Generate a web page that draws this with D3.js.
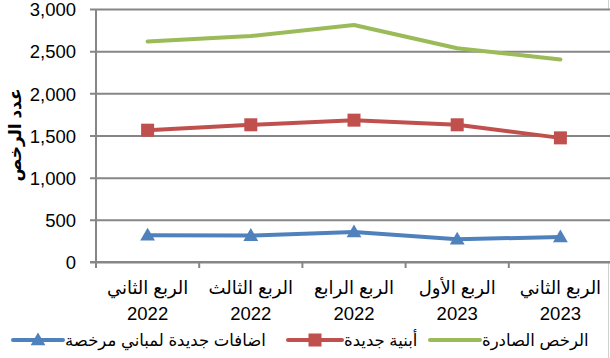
<!DOCTYPE html>
<html><head><meta charset="utf-8">
<script src="https://cdn.jsdelivr.net/npm/d3@7"></script>
<style>
html,body{margin:0;padding:0;background:#fff;}
svg{display:block;font-family:"Liberation Sans",Arial,"DejaVu Sans",sans-serif;}
</style></head>
<body>
<svg id="c" width="610" height="358"></svg>
<script>
const quarters = ["الربع الثاني","الربع الثالث","الربع الرابع","الربع الأول","الربع الثاني"];
const years = ["2022","2022","2022","2023","2023"];
const permits = [2615, 2680, 2810, 2535, 2400];      // الرخص الصادرة
const newBuildings = [1563, 1627, 1682, 1627, 1472]; // أبنية جديدة
const additions = [317, 313, 356, 269, 297];         // اضافات جديدة لمباني مرخصة
const yTicks = [0, 500, 1000, 1500, 2000, 2500, 3000];
const seriesNames = ["الرخص الصادرة","أبنية جديدة","اضافات جديدة لمباني مرخصة"];
const yTitle = "عدد الرخص";

const svg = d3.select("#c");
const L = 96, R = 612, T = 9, B = 262;
const x = d3.scaleBand().domain(d3.range(quarters.length)).range([L, R]);
const y = d3.scaleLinear().domain([0, 3000]).range([B, T]);
const grid = "#868686";

// chart border (partially visible)
svg.append("line").attr("x1",608.5).attr("x2",608.5).attr("y1",0).attr("y2",358)
  .attr("stroke","#d0d0d0").attr("stroke-width",1);
svg.append("rect").attr("x",L).attr("y",T).attr("width",R-L).attr("height",B-T).attr("fill","#fff");

// gridlines + y ticks
const yAxis = d3.axisLeft(y).tickValues(yTicks).tickFormat(d3.format(",")).tickSize(-(R-L)).tickPadding(14);
const gy = svg.append("g").attr("transform",`translate(${L},0)`).call(yAxis);
gy.select(".domain").remove();
gy.selectAll(".tick line").attr("x1",-6).attr("stroke",grid).attr("stroke-width",2);
gy.selectAll(".tick text").attr("font-size",18.5).attr("fill","#000").attr("x",-20).attr("dy","0.36em")
  .attr("font-family",'"Liberation Sans",Arial,sans-serif');

// y axis line
svg.append("line").attr("x1",L).attr("x2",L).attr("y1",T).attr("y2",B+6).attr("stroke",grid).attr("stroke-width",2);
// x axis line + ticks
svg.append("line").attr("x1",L-6).attr("x2",R).attr("y1",B).attr("y2",B).attr("stroke",grid).attr("stroke-width",2);
const xTickPos = d3.range(quarters.length+1).map(i => i < quarters.length ? x(i) : x(quarters.length-1)+x.bandwidth());
svg.selectAll(".xt").data(xTickPos.slice(1)).join("line").attr("class","xt")
  .attr("x1",d=>d).attr("x2",d=>d).attr("y1",B).attr("y2",B+6).attr("stroke",grid).attr("stroke-width",2);

// x labels
const xl = svg.selectAll(".xl").data(quarters).join("g").attr("class","xl")
  .attr("transform",(d,i)=>`translate(${x(i)+x.bandwidth()/2},0)`);
xl.append("text").attr("y",294).attr("text-anchor","middle").attr("font-size",18).text(d=>d);
xl.append("text").attr("y",320).attr("text-anchor","middle").attr("font-size",18.5)
  .attr("font-family",'"Liberation Sans",Arial,sans-serif').text((d,i)=>years[i]);

// y title
svg.append("text").attr("transform","translate(21,135) rotate(-90)").attr("text-anchor","middle")
  .attr("font-size",17).attr("font-weight","bold").text(yTitle);

const colors = ["#9BBB59","#C0504D","#4F81BD"];
const data = [permits, newBuildings, additions];
const line = d3.line().x((d,i)=>x(i)+x.bandwidth()/2).y(d=>y(d));
data.forEach((s,k)=>{
  svg.append("path").datum(s).attr("d",line).attr("fill","none").attr("stroke",colors[k])
    .attr("stroke-width",4).attr("stroke-linejoin","round").attr("stroke-linecap","round");
});
const sq = 13;
svg.selectAll(".sq").data(newBuildings).join("rect").attr("class","sq")
  .attr("x",(d,i)=>x(i)+x.bandwidth()/2-sq/2).attr("y",d=>y(d)-sq/2).attr("width",sq).attr("height",sq)
  .attr("fill",colors[1]);
const tri = d3.symbol().type(d3.symbolTriangle).size(95);
svg.selectAll(".tr").data(additions).join("path").attr("class","tr")
  .attr("transform",(d,i)=>`translate(${x(i)+x.bandwidth()/2},${y(d)+1})`).attr("d",tri).attr("fill",colors[2]);

// legend
const legY = 340;
const legLines = [[430,480],[288,342],[13,63]];
legLines.forEach((p,k)=>{
  svg.append("line").attr("x1",p[0]).attr("x2",p[1]).attr("y1",legY).attr("y2",legY)
    .attr("stroke",colors[k]).attr("stroke-width",4).attr("stroke-linecap","round");
  const cx = (p[0]+p[1])/2;
  if(k===1) svg.append("rect").attr("x",cx-sq/2).attr("y",legY-sq/2).attr("width",sq).attr("height",sq).attr("fill",colors[1]);
  if(k===2) svg.append("path").attr("transform",`translate(${cx},${legY+1})`).attr("d",tri).attr("fill",colors[2]);
  svg.append("text").attr("x",p[1]+2).attr("y",legY+6).attr("text-anchor","start").attr("font-size",16.5).text(seriesNames[k]);
});
</script>
</body></html>
